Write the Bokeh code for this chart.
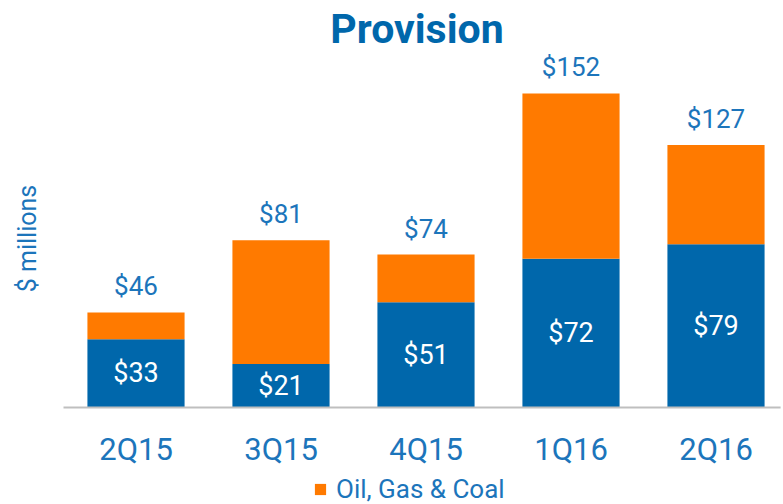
import math
from bokeh.plotting import figure
from bokeh.models import Range1d, ColumnDataSource, Legend, LegendItem
from bokeh.embed import file_html
from bokeh.resources import INLINE
from bokeh.core.properties import value

# ---- data ----
quarters = ["2Q15", "3Q15", "4Q15", "1Q16", "2Q16"]
other = [33, 21, 51, 72, 79]
oil_gas_coal = [13, 60, 23, 80, 48]
totals = [46, 81, 74, 152, 127]
title_text = "Provision"
y_label = "$ millions"
legend_label = "Oil, Gas & Coal"

BLUE = "#0067ab"
ORANGE = "#ff7a00"
TEXT = "#1c75bb"
FONT = "Roboto"

W, H = 783, 504
PX_PER_CAT = 145.0
PX_PER_UNIT = 2.066
LEFT_PX = 63          # frame px from left to edge of first category
BASE_PX = 407         # frame px from top to the baseline

x0 = -0.5 - LEFT_PX / PX_PER_CAT
x1 = x0 + W / PX_PER_CAT
y1 = BASE_PX / PX_PER_UNIT
y0 = y1 - H / PX_PER_UNIT

idx = list(range(len(quarters)))
src = ColumnDataSource(dict(
    x=idx,
    other=other,
    ogc_top=[a + b for a, b in zip(other, oil_gas_coal)],
    mid=[a / 2 for a in other],
    zero=[0] * len(quarters),
    other_lbl=[f"${v}" for v in other],
    total_lbl=[f"${v}" for v in totals],
    total=totals,
    qlabel=quarters,
))

p = figure(width=W, height=H, x_range=Range1d(x0, x1), y_range=Range1d(y0, y1),
           output_backend="svg", toolbar_location=None, title=None,
           x_axis_type=None, y_axis_type=None, min_border=0,
           outline_line_color=None)
p.grid.visible = False

r_blue = p.vbar(x="x", bottom="zero", top="other", width=0.67, source=src,
                fill_color=BLUE, line_color=None)
r_orange = p.vbar(x="x", bottom="other", top="ogc_top", width=0.67, source=src,
                  fill_color=ORANGE, line_color=None)

# baseline
p.segment(x0=[-0.5], y0=[0], x1=[x1 - 0.02], y1=[0], line_color="#bfbfbf", line_width=2)

# inside labels
p.text(x="x", y="mid", text="other_lbl", source=src, text_align="center",
       text_baseline="middle", text_color="white", text_font_size="27px",
       text_font=value(FONT))
# total labels
p.text(x="x", y="total", text="total_lbl", source=src, text_align="center",
       text_baseline="alphabetic", y_offset=-26, text_color=TEXT,
       text_font_size="26px", text_font=value(FONT))
# category labels
p.text(x="x", y="zero", text="qlabel", source=src, text_align="center",
       text_baseline="middle", y_offset=42, text_color=TEXT,
       text_font_size="31px", text_font=value(FONT))

# title
p.text(x=[(len(quarters) - 1) / 2], y=[y1], text=[title_text], x_offset=-9,
       y_offset=28, text_align="center", text_baseline="middle",
       text_color=BLUE, text_font_size="41px", text_font_style="bold",
       text_font=value(FONT))
# y label
p.text(x=[-0.5], y=[0], text=[y_label], x_offset=-36, y_offset=-169,
       angle=math.pi / 2, text_align="center", text_baseline="middle",
       text_color=TEXT, text_font_size="25px", text_font=value(FONT))

legend = Legend(items=[LegendItem(label=legend_label, renderers=[r_orange])],
                location=(313, 0), orientation="horizontal", padding=0, margin=0,
                glyph_width=14, glyph_height=14, label_standoff=9,
                label_text_font_size="26px", label_text_color=TEXT,
                label_text_font=FONT,
                border_line_color=None, background_fill_alpha=0)
p.add_layout(legend)

open("out.html", "w").write(file_html(p, INLINE))
